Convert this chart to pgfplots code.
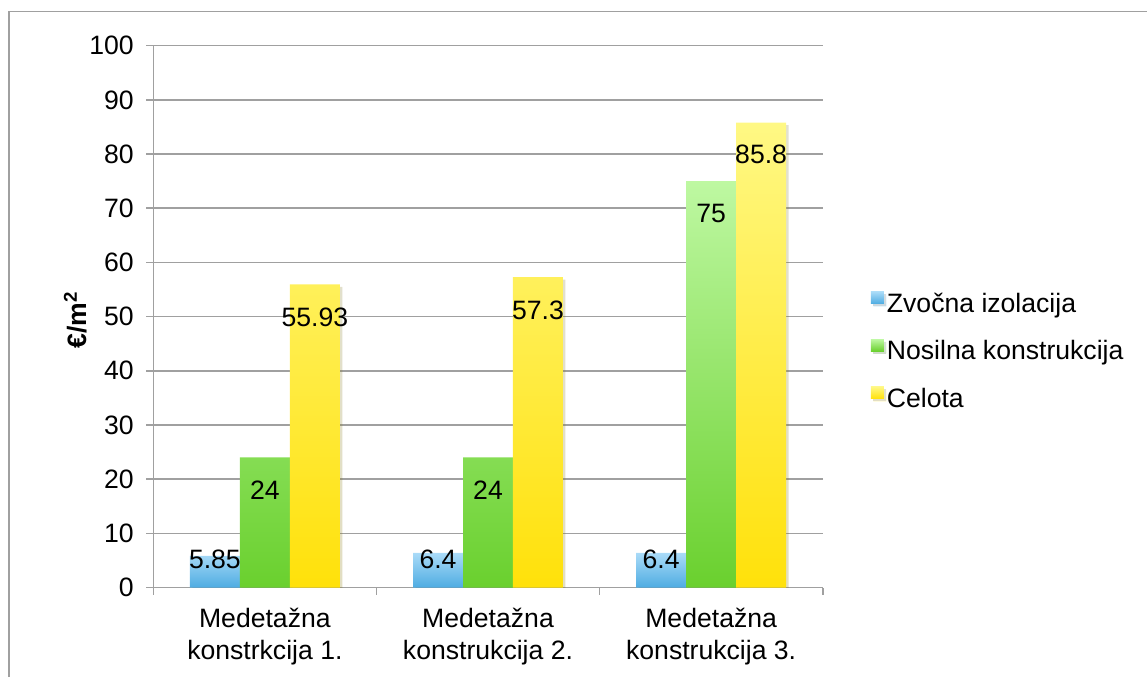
\documentclass[border=0pt]{standalone}
\usepackage{fontspec}
\setmainfont{Liberation Sans}
\usepackage{pgfplots}
\pgfplotsset{compat=1.18}
\usepackage{pgfplotstable}

\definecolor{blueT}{RGB}{170,219,248}
\definecolor{blueB}{RGB}{78,172,226}
\definecolor{greenT}{RGB}{190,248,162}
\definecolor{greenB}{RGB}{106,208,46}
\definecolor{yelT}{RGB}{255,248,132}
\definecolor{yelB}{RGB}{255,225,10}
\definecolor{gridc}{RGB}{160,160,160}

\pgfplotstableread{
x y lab dy
0 5.85 5.85 -4
1 6.4 6.4 -7
2 6.4 6.4 -7
}\blueT
\pgfplotstableread{
x y lab dy
0 24 24 -33
1 24 24 -33
2 75 75 -32
}\greenT
\pgfplotstableread{
x y lab dy
0 55.93 55.93 -33
1 57.3 57.3 -33
2 85.8 85.8 -32
}\yelT

\begin{document}
\begin{tikzpicture}
\path[use as bounding box] (0,0) rectangle (1147pt,677pt);
\draw[gridc, line width=1.6pt] (8.7pt,0) -- (8.7pt,665.5pt) -- (1147pt,665.5pt);
\begin{axis}[
  at={(153.3pt,89.5pt)}, anchor=south west,
  scale only axis, width=669.4pt, height=541.8pt,
  font=\fontsize{26.6}{31}\selectfont,
  /pgf/number format/assume math mode=true,
  ybar=0pt, bar width=0.224,
  xmin=-0.5, xmax=2.5, ymin=0, ymax=100,
  ytick={0,10,...,100},
  xtick={0,1,2},
  xticklabels={{Medetažna\\konstrkcija 1.},{Medetažna\\konstrukcija 2.},{Medetažna\\konstrukcija 3.}},
  xticklabel style={align=center, font=\fontsize{26.6}{32}\selectfont, yshift=-10pt},
  yticklabel style={xshift=-9pt},
  minor xtick={-0.5,0.5,1.5,2.5},
  major x tick style={draw=none},
  tick align=outside,
  major tick length=7pt, minor tick length=7pt,
  tick style={gridc, line width=1.6pt},
  ymajorgrids, grid style={gridc, line width=1.6pt},
  axis lines*=left, axis line style={gridc, line width=1.6pt, -},
  ylabel={\textbf{€/m\textsuperscript{2}}},
  ylabel style={at={(axis description cs:-0.1166,0.494)}, anchor=center},
  nodes near coords,
  point meta=explicit symbolic,
  visualization depends on={\thisrow{dy} \as \dy},
  every node near coord/.append style={anchor=center, yshift=\dy pt, font=\fontsize{26.6}{31}\selectfont, text=black},
  legend style={at={(axis description cs:1,0.438)}, anchor=west, xshift=48pt, yshift=-3pt, draw=none, fill=none,
    inner sep=0pt, row sep=16.5pt, nodes={text height=19pt, text depth=6pt, inner sep=3pt},
    font=\fontsize{26.6}{31}\selectfont},
  legend cell align=left,
  legend image code/.code={\fill[#1, draw=none] (0pt,2pt) rectangle (13pt,14pt);},
]
\addplot[draw=none, top color=blueT, bottom color=blueB, bar shift=-0.224,
  preaction={fill=black, opacity=0.13, transform canvas={xshift=2.5pt, yshift=-2.5pt}}]
  table[x=x, y=y, meta=lab] {\blueT};
\addplot[draw=none, top color=greenT, bottom color=greenB, bar shift=0,
  preaction={fill=black, opacity=0.13, transform canvas={xshift=2.5pt, yshift=-2.5pt}}]
  table[x=x, y=y, meta=lab] {\greenT};
\addplot[draw=none, top color=yelT, bottom color=yelB, bar shift=0.224,
  preaction={fill=black, opacity=0.13, transform canvas={xshift=2.5pt, yshift=-2.5pt}}]
  table[x=x, y=y, meta=lab] {\yelT};
\legend{Zvočna izolacija, Nosilna konstrukcija, Celota}
\end{axis}
\end{tikzpicture}
\end{document}
